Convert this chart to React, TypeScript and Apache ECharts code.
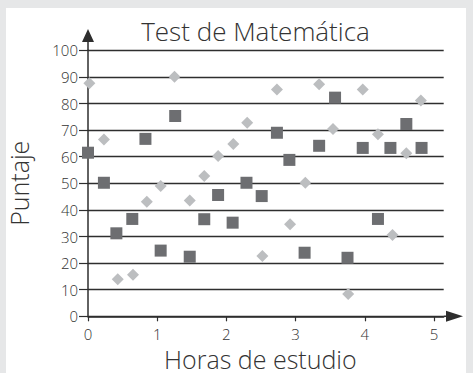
import React, { useEffect, useRef } from "react";
import * as echarts from "echarts";

const titleText = "Test de Matemática";
const xName = "Horas de estudio";
const yName = "Puntaje";
const xTicks = [0, 1, 2, 3, 4, 5];

// Dark squares
const squareX = [0.0, 0.23, 0.41, 0.64, 0.83, 1.05, 1.26, 1.47, 1.68, 1.88, 2.09, 2.29, 2.51, 2.73, 2.91, 3.13, 3.34, 3.57, 3.75, 3.97, 4.19, 4.37, 4.6, 4.82];
const squareY = [61.5, 50.2, 31.2, 36.6, 66.7, 24.7, 75.3, 22.4, 36.5, 45.6, 35.2, 50.2, 45.2, 69.0, 58.8, 23.9, 64.1, 82.2, 22.0, 63.3, 36.6, 63.3, 72.3, 63.3];

// Light diamonds
const diamondX = [0.02, 0.23, 0.43, 0.65, 0.85, 1.05, 1.25, 1.47, 1.68, 1.88, 2.1, 2.3, 2.52, 2.73, 2.92, 3.14, 3.34, 3.54, 3.76, 3.97, 4.19, 4.4, 4.6, 4.81];
const diamondY = [87.6, 66.5, 13.9, 15.6, 43.1, 49.0, 90.1, 43.5, 52.7, 60.3, 64.8, 72.8, 22.7, 85.3, 34.6, 50.2, 87.2, 70.4, 8.4, 85.3, 68.4, 30.6, 61.3, 81.1];

const FONT = "'Open Sans', 'Noto Sans', sans-serif";
const TEXT = "#333333";
const AXIS = "#2e2e2e";

export default function App() {
  const ref = useRef<HTMLDivElement>(null);
  useEffect(() => {
    if (!ref.current) return;
    const chart = echarts.init(ref.current, undefined, { renderer: "svg" });
    const squares = squareX.map((x, i) => [x, squareY[i]]);
    const diamonds = diamondX.map((x, i) => [x, diamondY[i]]);
    chart.setOption({
      animation: false,
      backgroundColor: "#e6e7e8",
      textStyle: { fontFamily: FONT },
      graphic: [
        {
          type: "rect",
          z: -10,
          silent: true,
          shape: { x: 6, y: 8, width: 460, height: 365 },
          style: { fill: "#ffffff" },
        },
      ],
      title: {
        text: titleText,
        left: 250.5,
        textAlign: "center",
        top: 13,
        textStyle: { fontFamily: FONT, fontSize: 26, fontWeight: 300, color: TEXT },
      },
      grid: { left: 88, top: 50.3, width: 355.7, height: 266, containLabel: false, outerBoundsMode: "none" },
      xAxis: {
        type: "value",
        min: 0,
        max: 5.14,
        interval: 1,
        name: xName,
        nameLocation: "middle",
        nameGap: 30.5,
        nameTextStyle: { fontFamily: FONT, fontSize: 25, lineHeight: 24, fontWeight: 300, color: TEXT, padding: [0, 11, 0, 0] },
        axisLine: {
          show: true,
          lineStyle: { color: AXIS, width: 1.5 },
          symbol: ["none", "path://M5.5,0L11,17L6.25,17L6.25,19.3L4.75,19.3L4.75,17L0,17Z"],
          symbolSize: [11, 19.3],
          symbolOffset: [0, 9.65],
        },
        axisTick: { show: true, inside: false, length: 5, customValues: xTicks, lineStyle: { color: AXIS, width: 1.2 } },
        axisLabel: { customValues: xTicks, margin: 10, fontSize: 15, lineHeight: 15, fontWeight: 300, color: TEXT, fontFamily: FONT },
        splitLine: { show: false },
      },
      yAxis: {
        type: "value",
        min: 0,
        max: 100,
        interval: 10,
        name: yName,
        nameLocation: "middle",
        nameGap: 57,
        nameTextStyle: { fontFamily: FONT, fontSize: 25, fontWeight: 300, color: TEXT },
        axisLine: {
          show: true,
          lineStyle: { color: AXIS, width: 1.5 },
          symbol: ["none", "path://M6,0L12,13L6.75,13L6.75,21.3L5.25,21.3L5.25,13L0,13Z"],
          symbolSize: [12, 21.3],
          symbolOffset: [0, 10.65],
        },
        axisTick: { show: true, inside: false, length: 9, lineStyle: { color: AXIS, width: 1.2 } },
        axisLabel: { margin: 10, fontSize: 15, fontWeight: 300, color: TEXT, fontFamily: FONT },
        splitLine: { show: true, lineStyle: { color: AXIS, width: 1.3 } },
      },
      series: [
        {
          name: "Diamantes",
          type: "scatter",
          symbol: "diamond",
          symbolSize: 12,
          data: diamonds,
          itemStyle: { color: "#bcbec0", opacity: 1 },
          z: 3,
        },
        {
          name: "Cuadrados",
          type: "scatter",
          symbol: "rect",
          symbolSize: 12,
          data: squares,
          itemStyle: { color: "#6d6e71", opacity: 1 },
          z: 4,
        },
      ],
    });
    return () => chart.dispose();
  }, []);
  return (
    <div
      ref={ref}
      style={{ position: "absolute", left: 0, top: 0, width: 473, height: 373 }}
    />
  );
}
